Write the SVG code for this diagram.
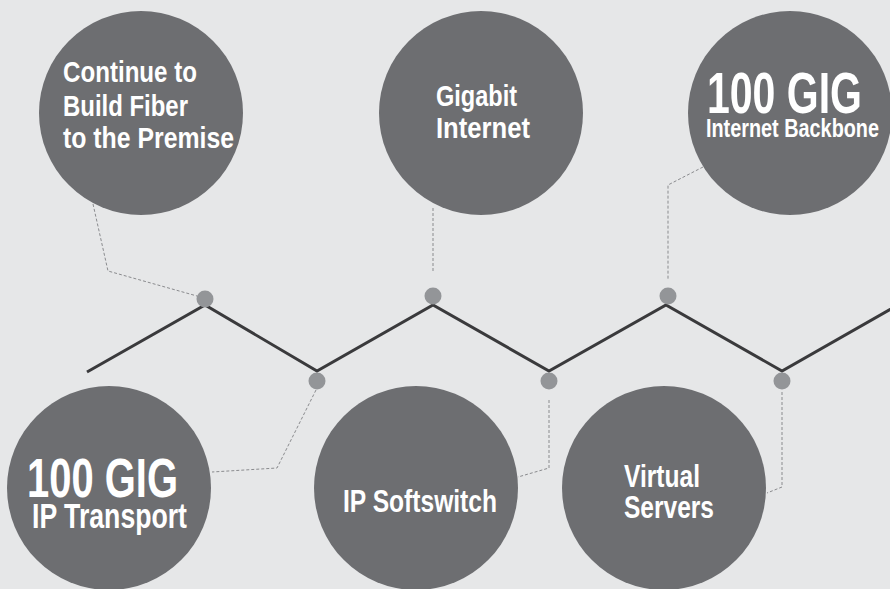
<svg xmlns="http://www.w3.org/2000/svg" width="890" height="589" viewBox="0 0 890 589">
<style>
.bubble{fill:#6d6e71}
.dot{fill:#939598}
.lbl{fill:#ffffff;font-family:"Liberation Sans",Arial,sans-serif;font-weight:bold}
.dash{fill:none;stroke:#8a8b8e;stroke-width:1;stroke-dasharray:3 2}
.zig{fill:none;stroke:#3a3a3c;stroke-width:3;stroke-linejoin:miter}
</style>
<rect width="890" height="589" fill="#e6e7e8"/>
<g id="connectors">
<polyline class="zig" points="87,372 205,305 317,371 433,305 549,371 666,305 782,371 898,305"/>
<polyline class="dash" points="93,204 108,271 197,296"/>
<polyline class="dash" points="433,208 433,273"/>
<polyline class="dash" points="703,167 668,185 668,280"/>
<polyline class="dash" points="316,390 277,468 212,472"/>
<polyline class="dash" points="549,400 549,468 518,477"/>
<polyline class="dash" points="782,392 782,487 767,493"/>
<circle class="dot" cx="205" cy="299" r="8.5"/>
<circle class="dot" cx="433" cy="296" r="8.5"/>
<circle class="dot" cx="668" cy="296" r="8.5"/>
<circle class="dot" cx="317" cy="381" r="8.5"/>
<circle class="dot" cx="549" cy="381" r="8.5"/>
<circle class="dot" cx="782" cy="381" r="8.5"/>
</g>
<g id="fiber">
<circle class="bubble" cx="141" cy="113" r="102"/>
<text class="lbl" font-size="30"><tspan x="63" y="82" textLength="134" lengthAdjust="spacingAndGlyphs">Continue to</tspan><tspan x="63" y="116" textLength="125" lengthAdjust="spacingAndGlyphs">Build Fiber</tspan><tspan x="63" y="148" textLength="171" lengthAdjust="spacingAndGlyphs">to the Premise</tspan></text>
</g>
<g id="gigabit">
<circle class="bubble" cx="481" cy="113" r="102"/>
<text class="lbl" font-size="30"><tspan x="436" y="106" textLength="81" lengthAdjust="spacingAndGlyphs">Gigabit</tspan><tspan x="436" y="138" textLength="94" lengthAdjust="spacingAndGlyphs">Internet</tspan></text>
</g>
<g id="backbone">
<circle class="bubble" cx="790" cy="113" r="102"/>
<text class="lbl" x="707" y="113" font-size="57" textLength="155" lengthAdjust="spacingAndGlyphs">100 GIG</text>
<text class="lbl" x="706" y="137" font-size="26" textLength="173" lengthAdjust="spacingAndGlyphs">Internet Backbone</text>
</g>
<g id="transport">
<circle class="bubble" cx="109" cy="488" r="102"/>
<text class="lbl" x="27" y="497" font-size="56" textLength="151" lengthAdjust="spacingAndGlyphs">100 GIG</text>
<text class="lbl" x="32" y="528" font-size="35" textLength="155" lengthAdjust="spacingAndGlyphs">IP Transport</text>
</g>
<g id="softswitch">
<circle class="bubble" cx="416" cy="488" r="102"/>
<text class="lbl" x="343" y="512" font-size="31" textLength="154" lengthAdjust="spacingAndGlyphs">IP Softswitch</text>
</g>
<g id="servers">
<circle class="bubble" cx="664" cy="488" r="102"/>
<text class="lbl" font-size="32"><tspan x="624" y="487" textLength="76" lengthAdjust="spacingAndGlyphs">Virtual</tspan><tspan x="624" y="518" textLength="90" lengthAdjust="spacingAndGlyphs">Servers</tspan></text>
</g>
</svg>
